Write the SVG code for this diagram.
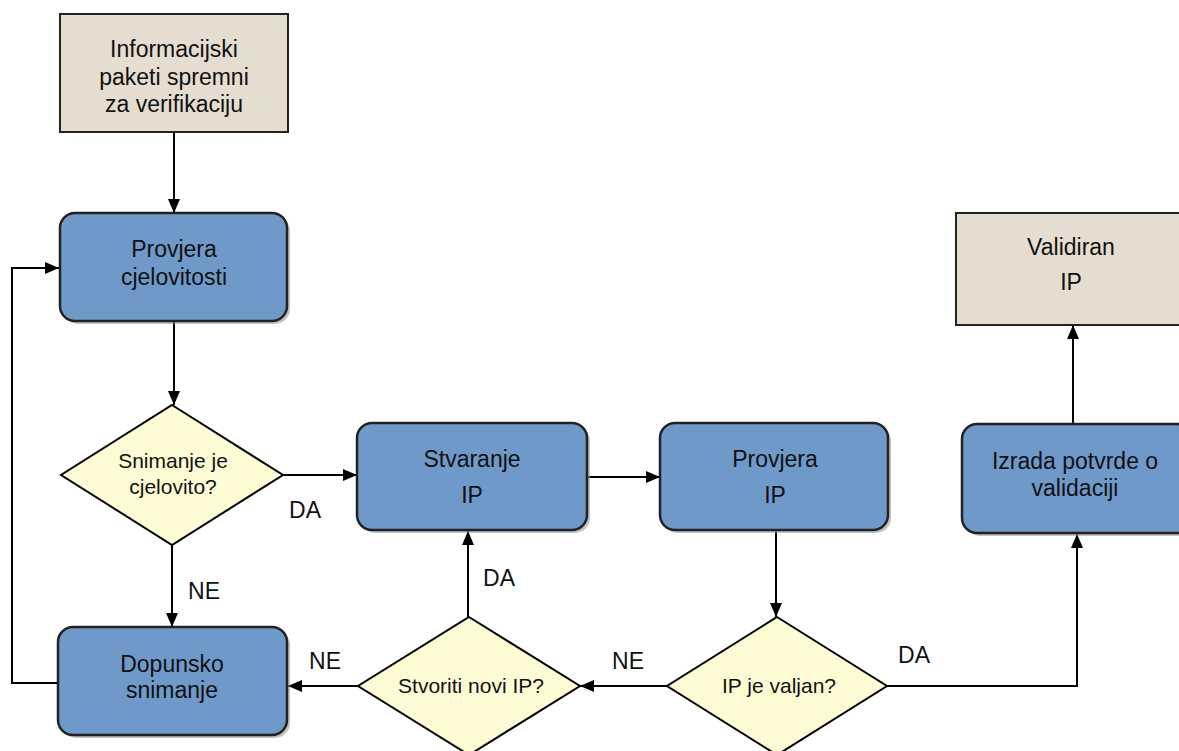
<svg xmlns="http://www.w3.org/2000/svg" width="1179" height="751" viewBox="0 0 1179 751">
  <defs>
    <marker id="arrow" viewBox="0 0 14 12" refX="14" refY="6" markerWidth="14" markerHeight="12" markerUnits="userSpaceOnUse" orient="auto">
      <path d="M0,0 L14,6 L0,12 Z" fill="#000"/>
    </marker>
    <style>
      text { font-family: "Liberation Sans", Arial, sans-serif; font-size: 23px; fill: #111; text-anchor: middle; }
      .q { font-size: 21px; }
      .terminal { fill: #e5ddd0; stroke: #222; stroke-width: 2; }
      .process { fill: #6f99c9; stroke: #222; stroke-width: 2.5; }
      .shadow { fill: #9a9a9a; opacity: 0.6; }
      .decision { fill: #fdfcd5; stroke: #000; stroke-width: 2; }
      .edge { fill: none; stroke: #000; stroke-width: 2; }
    </style>
  </defs>
  <rect width="1179" height="751" fill="#fff"/>

  <!-- connectors -->
  <g id="connectors">
    <path class="edge" d="M174,132 V213" marker-end="url(#arrow)"/>
    <path class="edge" d="M174,321 V405" marker-end="url(#arrow)"/>
    <path class="edge" d="M282,475 H357" marker-end="url(#arrow)"/>
    <path class="edge" d="M172,544 V627" marker-end="url(#arrow)"/>
    <path class="edge" d="M58,683 H12 V268 H59" marker-end="url(#arrow)"/>
    <path class="edge" d="M587,477 H660" marker-end="url(#arrow)"/>
    <path class="edge" d="M776,530 V617" marker-end="url(#arrow)"/>
    <path class="edge" d="M667,686 H580" marker-end="url(#arrow)"/>
    <path class="edge" d="M358,686 H288" marker-end="url(#arrow)"/>
    <path class="edge" d="M468,617 V531" marker-end="url(#arrow)"/>
    <path class="edge" d="M887,686 H1077 V534" marker-end="url(#arrow)"/>
    <path class="edge" d="M1073,424 V325" marker-end="url(#arrow)"/>
    <text x="305" y="518">DA</text>
    <text x="204" y="599">NE</text>
    <text x="499" y="586">DA</text>
    <text x="325" y="669">NE</text>
    <text x="628" y="669">NE</text>
    <text x="914" y="663">DA</text>
  </g>

  <!-- start: information packages -->
  <g id="node-start">
    <rect class="terminal" x="60" y="14" width="228" height="118"/>
    <text x="174" y="57">Informacijski</text>
    <text x="174" y="85">paketi spremni</text>
    <text x="174" y="112">za verifikaciju</text>
  </g>

  <g id="node-check-completeness">
    <rect class="shadow" x="63" y="216" width="227" height="108" rx="15"/>
    <rect class="process" x="60" y="213" width="227" height="108" rx="15"/>
    <text x="174" y="257">Provjera</text>
    <text x="174" y="285">cjelovitosti</text>
  </g>

  <g id="node-recording-complete">
    <polygon class="decision" points="172,405 283,475 172,545 61,475"/>
    <text class="q" x="173" y="468">Snimanje je</text>
    <text class="q" x="173" y="494">cjelovito?</text>
  </g>

  <g id="node-create-ip">
    <rect class="shadow" x="360" y="426" width="230" height="107" rx="15"/>
    <rect class="process" x="357" y="423" width="230" height="107" rx="15"/>
    <text x="472" y="467">Stvaranje</text>
    <text x="472" y="503">IP</text>
  </g>

  <g id="node-check-ip">
    <rect class="shadow" x="663" y="426" width="228" height="107" rx="15"/>
    <rect class="process" x="660" y="423" width="228" height="107" rx="15"/>
    <text x="775" y="467">Provjera</text>
    <text x="775" y="503">IP</text>
  </g>

  <g id="node-validation-report">
    <rect class="shadow" x="965" y="427" width="230" height="109" rx="15"/>
    <rect class="process" x="962" y="424" width="230" height="109" rx="15"/>
    <text x="1075" y="469">Izrada potvrde o</text>
    <text x="1075" y="496">validaciji</text>
  </g>

  <g id="node-validated-ip">
    <rect class="terminal" x="956" y="213" width="230" height="112"/>
    <text x="1071" y="255">Validiran</text>
    <text x="1071" y="290">IP</text>
  </g>

  <g id="node-additional-recording">
    <rect class="shadow" x="61" y="630" width="229" height="108" rx="15"/>
    <rect class="process" x="58" y="627" width="229" height="108" rx="15"/>
    <text x="172" y="672">Dopunsko</text>
    <text x="172" y="698">snimanje</text>
  </g>

  <g id="node-create-new-ip">
    <polygon class="decision" points="469,617 580,686 469,755 358,686"/>
    <text class="q" x="471" y="693">Stvoriti novi IP?</text>
  </g>

  <g id="node-ip-valid">
    <polygon class="decision" points="777,617 887,686 777,755 667,686"/>
    <text class="q" x="779" y="693">IP je valjan?</text>
  </g>
</svg>
